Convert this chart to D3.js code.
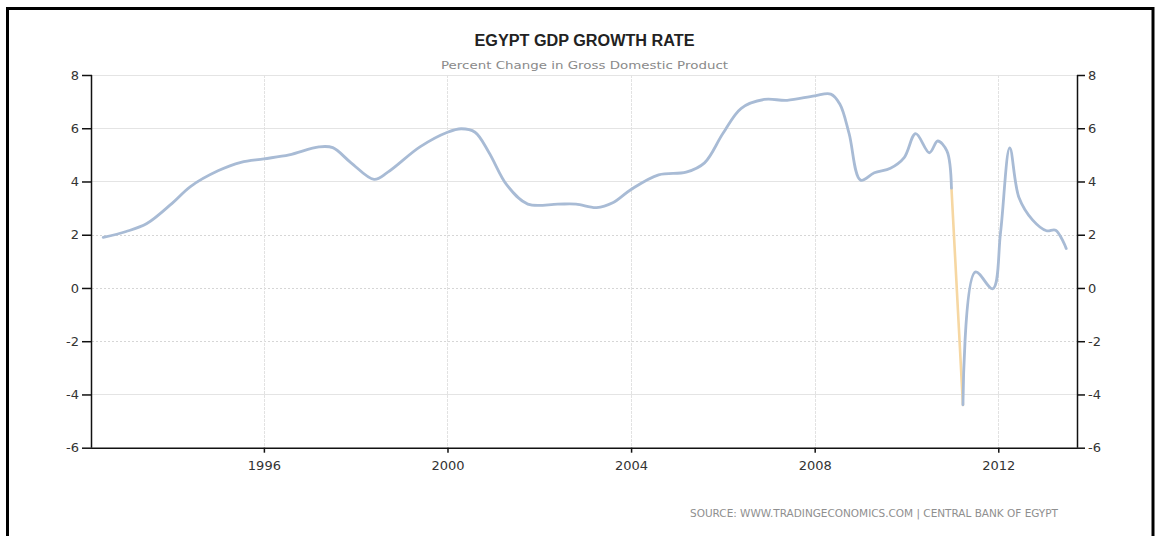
<!DOCTYPE html>
<html>
<head>
<meta charset="utf-8">
<script src="https://cdn.jsdelivr.net/npm/d3@7"></script>
<style>
  html, body { margin: 0; padding: 0; background: #fff; }
  svg { display: block; }
</style>
</head>
<body>
<svg id="chart" width="1162" height="536"></svg>
<script>
// ---- data ----
const titleText = "EGYPT GDP GROWTH RATE";
const subtitleText = "Percent Change in Gross Domestic Product";
const sourceText = "SOURCE: WWW.TRADINGECONOMICS.COM | CENTRAL BANK OF EGYPT";

const yTickValues = [-6, -4, -2, 0, 2, 4, 6, 8];
const yTickLabels = ["-6", "-4", "-2", "0", "2", "4", "6", "8"];
const xTickValues = [1996, 2000, 2004, 2008, 2012];
const xTickLabels = ["1996", "2000", "2004", "2008", "2012"];

// main (blue) series before the 2011 drop
const datesA = [1992.5, 1993.0, 1993.45, 1994.0, 1994.4, 1995.0, 1995.5, 1996.0, 1996.55, 1997.2, 1997.5, 1997.9, 1998.4, 1998.7, 1999.4, 2000.0, 2000.3, 2000.6, 2000.9, 2001.3, 2001.75, 2002.4, 2002.8, 2003.25, 2003.6, 2004.0, 2004.6, 2005.2, 2005.6, 2006.0, 2006.4, 2006.9, 2007.4, 2008.0, 2008.35, 2008.55, 2008.75, 2009.0, 2009.3, 2009.65, 2009.95, 2010.2, 2010.5, 2010.68, 2010.88, 2010.98];
const valuesA = [1.9, 2.12, 2.42, 3.18, 3.81, 4.4, 4.72, 4.85, 5.0, 5.3, 5.27, 4.7, 4.08, 4.35, 5.3, 5.85, 5.98, 5.85, 5.1, 3.85, 3.15, 3.15, 3.15, 3.02, 3.2, 3.7, 4.25, 4.35, 4.7, 5.8, 6.75, 7.08, 7.05, 7.22, 7.28, 6.9, 5.8, 4.05, 4.33, 4.5, 4.9, 5.8, 5.08, 5.52, 5.15, 3.75];
// the drop (drawn in orange)
const datesDrop = [2010.98, 2011.23];
const valuesDrop = [3.75, -4.39];
// main (blue) series after the drop
const datesB = [2011.23, 2011.5, 2011.88, 2012.05, 2012.25, 2012.45, 2012.75, 2013.05, 2013.25, 2013.48];
const valuesB = [-4.39, 0.6, -0.03, 2.1, 5.26, 3.4, 2.55, 2.15, 2.17, 1.48];

// ---- layout ----
const svg = d3.select("#chart");
const pLeft = 92, pRight = 1077, pTop = 75, pBottom = 447.7;

const x = d3.scaleLinear().domain([1992.255, 2013.715]).range([pLeft, pRight]);
const y = d3.scaleLinear().domain([-6, 8]).range([pBottom, pTop]);

// outer frame
svg.append("rect")
  .attr("x", 7.5).attr("y", 8.5).attr("width", 1145.5).attr("height", 600)
  .attr("fill", "none").attr("stroke", "#000").attr("stroke-width", 3);

// title + subtitle
const cx = (pLeft + pRight) / 2;
svg.append("text").attr("x", cx).attr("y", 46)
  .attr("text-anchor", "middle")
  .attr("font-family", "'Liberation Sans', Arial, sans-serif")
  .attr("font-size", 16).attr("font-weight", "bold").attr("fill", "#222")
  .attr("textLength", 220).attr("lengthAdjust", "spacingAndGlyphs")
  .text(titleText);
svg.append("text").attr("x", cx).attr("y", 69)
  .attr("text-anchor", "middle")
  .attr("font-family", "'DejaVu Sans', sans-serif")
  .attr("font-size", 11).attr("fill", "#8a8a8a")
  .attr("textLength", 287).attr("lengthAdjust", "spacingAndGlyphs")
  .text(subtitleText);

// gridlines
const dotted = new Set([2, 0, -2]);
svg.append("g").selectAll("line").data(yTickValues.filter(v => v !== -6)).join("line")
  .attr("x1", pLeft).attr("x2", pRight)
  .attr("y1", d => Math.round(y(d)) + 0.5).attr("y2", d => Math.round(y(d)) + 0.5)
  .attr("stroke", d => dotted.has(d) ? "#d6d6d6" : "#e4e4e4")
  .attr("stroke-dasharray", d => dotted.has(d) ? "2,2" : null)
  .attr("stroke-width", 1);
svg.append("g").selectAll("line").data(xTickValues).join("line")
  .attr("x1", d => Math.round(x(d)) + 0.5).attr("x2", d => Math.round(x(d)) + 0.5)
  .attr("y1", pTop).attr("y2", pBottom)
  .attr("stroke", "#e2e2e2").attr("stroke-dasharray", "3,1").attr("stroke-width", 1);

// lines
const line = d3.line().x(d => x(d[0])).y(d => y(d[1])).curve(d3.curveCatmullRom.alpha(0.5));
const straight = d3.line().x(d => x(d[0])).y(d => y(d[1]));
const segA = d3.zip(datesA, valuesA);
const segDrop = d3.zip(datesDrop, valuesDrop);
const segB = d3.zip(datesB, valuesB);
svg.append("path").attr("d", straight(segDrop))
  .attr("fill", "none").attr("stroke", "#f6d7a2").attr("stroke-width", 2.6).attr("stroke-linecap", "round");
svg.append("path").attr("d", line(segA))
  .attr("fill", "none").attr("stroke", "#a8bbd5").attr("stroke-width", 2.8)
  .attr("stroke-linejoin", "round").attr("stroke-linecap", "round");
svg.append("path").attr("d", line(segB))
  .attr("fill", "none").attr("stroke", "#a8bbd5").attr("stroke-width", 2.8)
  .attr("stroke-linejoin", "round").attr("stroke-linecap", "round");

// axes
const tickFont = "'DejaVu Sans', sans-serif";
const yFmt = d => yTickLabels[yTickValues.indexOf(d)];
const yLeft = svg.append("g").attr("transform", `translate(${pLeft},0)`)
  .call(d3.axisLeft(y).tickValues(yTickValues).tickSize(10).tickPadding(3).tickFormat(yFmt));
const yRight = svg.append("g").attr("transform", `translate(${pRight},0)`)
  .call(d3.axisRight(y).tickValues(yTickValues).tickSize(8).tickPadding(3).tickFormat(yFmt));
const xAxis = svg.append("g").attr("transform", `translate(0,${pBottom})`)
  .call(d3.axisBottom(x).tickValues(xTickValues).tickSize(5).tickPadding(8)
    .tickFormat((d, i) => xTickLabels[i]));
[yLeft, yRight, xAxis].forEach(g => {
  g.select(".domain").attr("stroke", "#111").attr("stroke-width", 1.5);
  g.selectAll(".tick line").attr("stroke", "#111").attr("stroke-width", 1.5);
  g.selectAll(".tick text").attr("font-family", tickFont).attr("font-size", 13).attr("fill", "#333");
});
xAxis.select(".domain").attr("d", `M${pLeft},0.5H${pRight}`);
yLeft.select(".domain").attr("d", `M-0.5,${pTop}V${pBottom}`);
yRight.select(".domain").attr("d", `M0.5,${pTop}V${pBottom}`);

// source
svg.append("text").attr("x", 1058).attr("y", 517)
  .attr("text-anchor", "end")
  .attr("font-family", "'DejaVu Sans', sans-serif")
  .attr("font-size", 10.5).attr("fill", "#8f8f8f")
  .attr("textLength", 368).attr("lengthAdjust", "spacing")
  .text(sourceText);
</script>
</body>
</html>
